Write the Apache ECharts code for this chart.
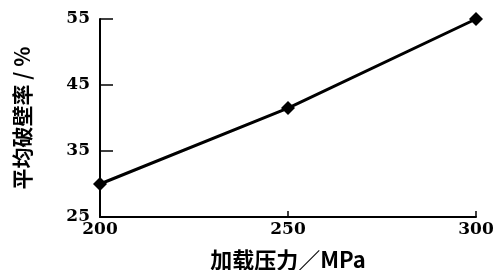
<!DOCTYPE html>
<html><head><meta charset="utf-8">
<script src="https://cdn.jsdelivr.net/npm/echarts@6/dist/echarts.min.js"></script>
<style>html,body{margin:0;padding:0;background:#fff}#c{width:496px;height:270px}</style>
</head><body><div id="c"></div>
<script>
var pressure = [200, 250, 300];
var breakRate = [30, 41.5, 55];
var yTicks = [25, 35, 45, 55];
var xName = '加载压力／MPa';
var yName = '平均破壁率 / %';

var chart = echarts.init(document.getElementById('c'));
chart.setOption({
  animation: false,
  backgroundColor: '#fff',
  grid: {left: 100, right: 20, top: 19, bottom: 53, containLabel: false, outerBoundsMode: 'none'},
  xAxis: {
    type: 'value', min: 200, max: 300, interval: 50,
    name: xName, nameLocation: 'middle', nameGap: 32,
    nameTextStyle: {fontFamily: 'Noto Sans CJK SC', fontSize: 22, color: '#000', fontWeight: 'bold'},
    axisLine: {lineStyle: {color: '#000', width: 2}},
    axisTick: {inside: true, length: 6, lineStyle: {color: '#000', width: 1.5}},
    axisLabel: {fontFamily: 'DejaVu Serif', fontWeight: 'bold', fontSize: 17, color: '#000', margin: 4},
    splitLine: {show: false}
  },
  yAxis: {
    type: 'value', min: 25, max: 55, interval: 10,
    name: yName, nameLocation: 'middle', nameGap: 67, nameRotate: 90,
    nameTextStyle: {fontFamily: 'Noto Sans CJK SC', fontSize: 21, color: '#000', fontWeight: 'bold'},
    axisLine: {show: true, lineStyle: {color: '#000', width: 2}},
    axisTick: {show: true, inside: true, length: 13, lineStyle: {color: '#000', width: 1.5}},
    axisLabel: {fontFamily: 'DejaVu Serif', fontWeight: 'bold', fontSize: 17, color: '#000', margin: 10,
      formatter: function(v){ return yTicks.indexOf(v) >= 0 ? String(v) : ''; }},
    splitLine: {show: false}
  },
  series: [{
    type: 'line',
    data: pressure.map(function(p, i){ return [p, breakRate[i]]; }),
    symbol: 'diamond', symbolSize: 14,
    lineStyle: {color: '#000', width: 3},
    itemStyle: {color: '#000'}
  }]
});
</script></body></html>
